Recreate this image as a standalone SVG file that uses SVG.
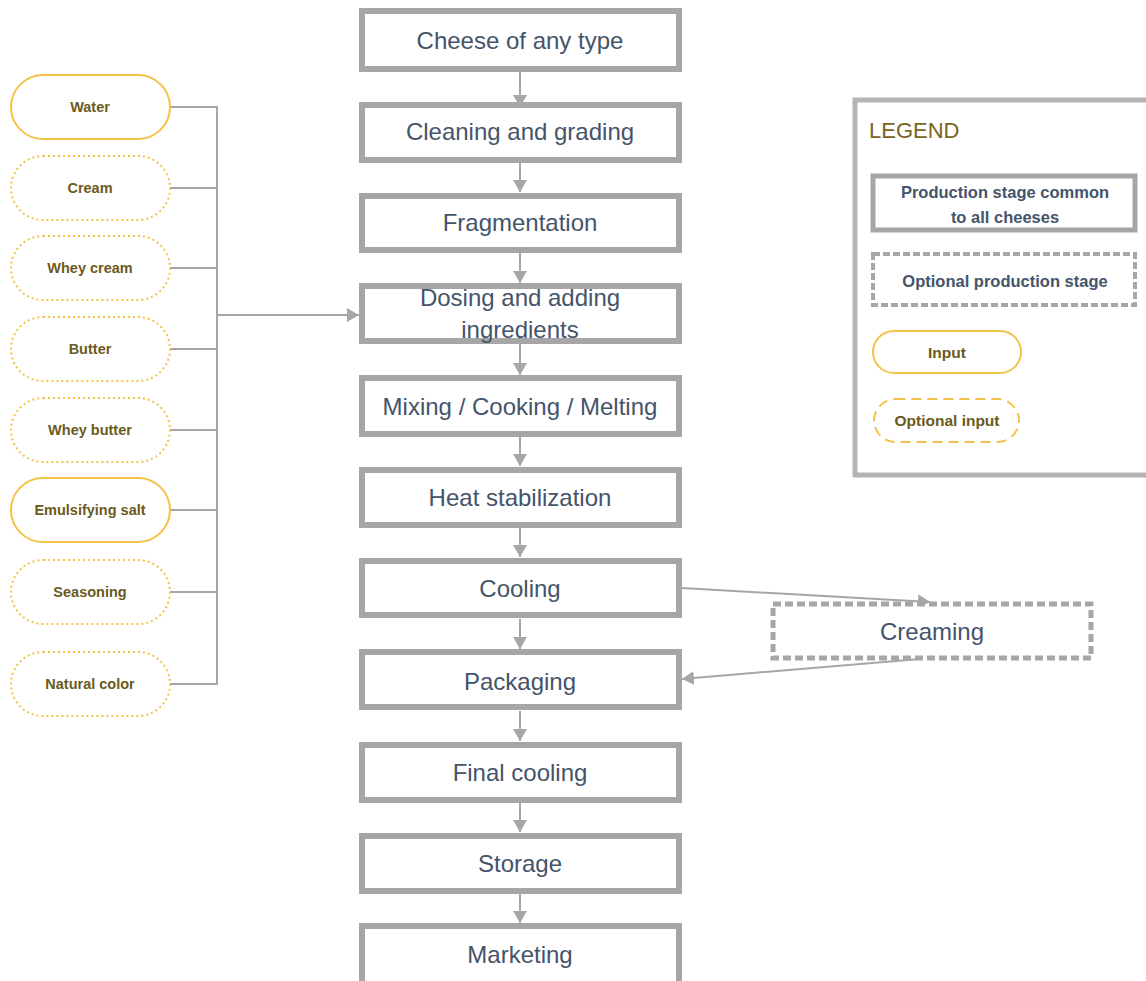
<svg xmlns="http://www.w3.org/2000/svg" width="1146" height="981" viewBox="0 0 1146 981">
<style>
.stage rect{fill:#fff;stroke:#a6a6a6;stroke-width:6}
.stage text{font-family:"Liberation Sans",Arial,sans-serif;font-size:24px;fill:#44546a;text-anchor:middle}
.opt rect{fill:#fff;stroke:#a6a6a6;stroke-width:5;stroke-dasharray:8 4}
.inp rect{fill:#fff;stroke:#f4c247;stroke-width:2}
.inp.o rect{stroke-dasharray:2 3;stroke-width:2}
.inp text{font-family:"Liberation Sans",Arial,sans-serif;font-size:14.5px;font-weight:bold;fill:#6b5a20;text-anchor:middle}
.con line{stroke:#a6a6a6;stroke-width:2;fill:none}
.lgtxt{font-family:"Liberation Sans",Arial,sans-serif;font-size:16.5px;font-weight:bold;fill:#44546a;text-anchor:middle}
</style>
<defs>
<marker id="ah" viewBox="0 0 12 14" refX="12" refY="7" markerWidth="12" markerHeight="14" markerUnits="userSpaceOnUse" orient="auto">
<path d="M0,0 L12,7 L0,14 z" fill="#a6a6a6"/>
</marker>
</defs>

<g id="connectors" class="con">
<line x1="520" y1="71" x2="520" y2="107" marker-end="url(#ah)"/>
<line x1="520" y1="162" x2="520" y2="192" marker-end="url(#ah)"/>
<line x1="520" y1="253" x2="520" y2="283" marker-end="url(#ah)"/>
<line x1="520" y1="344" x2="520" y2="375" marker-end="url(#ah)"/>
<line x1="520" y1="437" x2="520" y2="466" marker-end="url(#ah)"/>
<line x1="520" y1="528" x2="520" y2="557" marker-end="url(#ah)"/>
<line x1="520" y1="619" x2="520" y2="649" marker-end="url(#ah)"/>
<line x1="520" y1="711" x2="520" y2="741" marker-end="url(#ah)"/>
<line x1="520" y1="803" x2="520" y2="832" marker-end="url(#ah)"/>
<line x1="520" y1="894" x2="520" y2="923" marker-end="url(#ah)"/>
<line x1="170" y1="107" x2="217" y2="107"/>
<line x1="170" y1="188" x2="217" y2="188"/>
<line x1="170" y1="268" x2="217" y2="268"/>
<line x1="170" y1="349" x2="217" y2="349"/>
<line x1="170" y1="430" x2="217" y2="430"/>
<line x1="170" y1="510" x2="217" y2="510"/>
<line x1="170" y1="592" x2="217" y2="592"/>
<line x1="170" y1="684" x2="217" y2="684"/>
<line x1="217" y1="106" x2="217" y2="685"/>
<line x1="217" y1="315" x2="359" y2="315" marker-end="url(#ah)"/>
<line x1="682" y1="588" x2="930" y2="602" marker-end="url(#ah)"/>
<line x1="920" y1="659" x2="682" y2="679" marker-end="url(#ah)"/>
</g>

<g id="n1" class="stage"><rect x="362" y="11" width="317" height="58"/><text x="520" y="49">Cheese of any type</text></g>
<g id="n2" class="stage"><rect x="362" y="105" width="317" height="55"/><text x="520" y="140">Cleaning and grading</text></g>
<g id="n3" class="stage"><rect x="362" y="196" width="317" height="54"/><text x="520" y="231">Fragmentation</text></g>
<g id="n4" class="stage"><rect x="362" y="286" width="317" height="55"/><text x="520" y="306">Dosing and adding</text><text x="520" y="338">ingredients</text></g>
<g id="n5" class="stage"><rect x="362" y="378" width="317" height="56"/><text x="520" y="415">Mixing / Cooking / Melting</text></g>
<g id="n6" class="stage"><rect x="362" y="470" width="317" height="55"/><text x="520" y="506">Heat stabilization</text></g>
<g id="n7" class="stage"><rect x="362" y="561" width="317" height="54"/><text x="520" y="597">Cooling</text></g>
<g id="n8" class="stage"><rect x="362" y="652" width="317" height="55"/><text x="520" y="690">Packaging</text></g>
<g id="n9" class="stage"><rect x="362" y="745" width="317" height="55"/><text x="520" y="781">Final cooling</text></g>
<g id="n10" class="stage"><rect x="362" y="836" width="317" height="55"/><text x="520" y="872">Storage</text></g>
<g id="n11" class="stage"><rect x="362" y="926" width="317" height="60"/><text x="520" y="963">Marketing</text></g>

<g id="creaming" class="opt"><rect x="773" y="604" width="318" height="54"/><text x="932" y="640" style="font-family:'Liberation Sans',Arial,sans-serif;font-size:24px;fill:#44546a;text-anchor:middle">Creaming</text></g>

<g id="i1" class="inp"><rect x="11" y="75" width="159" height="64" rx="32"/><text x="90" y="112">Water</text></g>
<g id="i2" class="inp o"><rect x="11" y="156" width="159" height="64" rx="32"/><text x="90" y="193">Cream</text></g>
<g id="i3" class="inp o"><rect x="11" y="236" width="159" height="64" rx="32"/><text x="90" y="273">Whey cream</text></g>
<g id="i4" class="inp o"><rect x="11" y="317" width="159" height="64" rx="32"/><text x="90" y="354">Butter</text></g>
<g id="i5" class="inp o"><rect x="11" y="398" width="159" height="64" rx="32"/><text x="90" y="435">Whey butter</text></g>
<g id="i6" class="inp"><rect x="11" y="478" width="159" height="64" rx="32"/><text x="90" y="515">Emulsifying salt</text></g>
<g id="i7" class="inp o"><rect x="11" y="560" width="159" height="64" rx="32"/><text x="90" y="597">Seasoning</text></g>
<g id="i8" class="inp o"><rect x="11" y="652" width="159" height="64" rx="32"/><text x="90" y="689">Natural color</text></g>

<g id="legend">
<rect x="855" y="100" width="300" height="375" fill="#fff" stroke="#b4b4b4" stroke-width="5"/>
<text x="869" y="138" style="font-family:'Liberation Sans',Arial,sans-serif;font-size:22px;fill:#7a6420">LEGEND</text>
<g id="lg1" class="stage"><rect x="873" y="176" width="262" height="54" style="stroke-width:5"/></g>
<text class="lgtxt" x="1005" y="198">Production stage common</text>
<text class="lgtxt" x="1005" y="223">to all cheeses</text>
<g id="lg2" class="opt"><rect x="873" y="254" width="262" height="51" style="stroke-width:4;stroke-dasharray:7 3"/></g>
<text class="lgtxt" x="1005" y="287">Optional production stage</text>
<g id="lg3" class="inp"><rect x="873" y="331" width="148" height="42" rx="21"/><text x="947" y="358" style="font-size:15.5px">Input</text></g>
<g id="lg4" class="inp"><rect x="874" y="399" width="145" height="43" rx="21.5" style="stroke-dasharray:10 6"/><text x="947" y="426" style="font-size:15.5px">Optional input</text></g>
</g>
</svg>
